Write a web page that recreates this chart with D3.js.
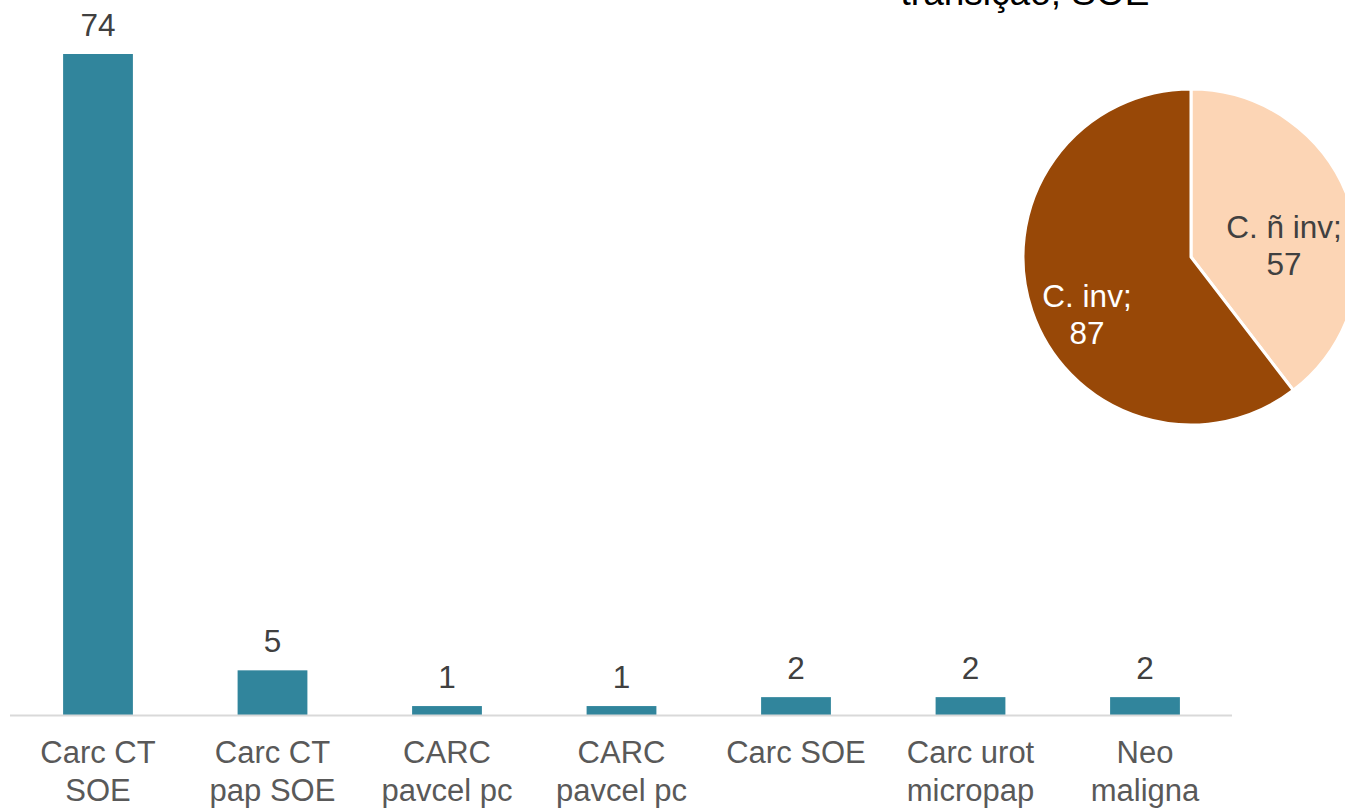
<!DOCTYPE html>
<html>
<head>
<meta charset="utf-8">
<script src="https://cdn.jsdelivr.net/npm/d3@7"></script>
<style>
  body { margin: 0; background: #fff; }
  svg { font-family: "Liberation Sans", Arial, sans-serif; display: block; }
</style>
</head>
<body>
<div id="chart"></div>
<script>
// bar data
var categories = [["Carc CT", "SOE"], ["Carc CT", "pap SOE"], ["CARC", "pavcel pc"], ["CARC", "pavcel pc"],
                  ["Carc SOE"], ["Carc urot", "micropap"], ["Neo", "maligna"]];
var values = [74, 5, 1, 1, 2, 2, 2];

// pie data
var pieLabels = ["C. ñ inv;", "C. inv;"];
var pieValues = [57, 87];
var pieTitle = "transição; SOE";

var width = 1345, height = 808;

var svg = d3.select("#chart").append("svg")
    .attr("width", width)
    .attr("height", height);

// bar chart
var x = d3.scaleBand()
    .domain(d3.range(values.length))
    .range([10.75, 1232.25])
    .paddingInner(0.6)
    .paddingOuter(0.3);

var y = d3.scaleLinear()
    .domain([0, 74])
    .range([715, 54]);

svg.append("g").selectAll("rect")
    .data(values)
  .enter().append("rect")
    .attr("x", function(d, i) { return x(i); })
    .attr("y", function(d) { return y(d); })
    .attr("width", x.bandwidth())
    .attr("height", function(d) { return y(0) - y(d); })
    .attr("fill", "#31859C");

svg.append("line")
    .attr("x1", 10).attr("x2", 1232)
    .attr("y1", y(0) + 0.5).attr("y2", y(0) + 0.5)
    .attr("stroke", "#D9D9D9")
    .attr("stroke-width", 2);

svg.append("g").selectAll("text")
    .data(values)
  .enter().append("text")
    .attr("x", function(d, i) { return x(i) + x.bandwidth() / 2; })
    .attr("y", function(d) { return y(d) - 18; })
    .attr("text-anchor", "middle")
    .attr("font-size", 31.5)
    .attr("fill", "#404040")
    .text(function(d) { return d; });

var cat = svg.append("g").selectAll("text")
    .data(categories)
  .enter().append("text")
    .attr("x", function(d, i) { return x(i) + x.bandwidth() / 2; })
    .attr("y", 763)
    .attr("text-anchor", "middle")
    .attr("font-size", 31)
    .attr("fill", "#595959");

cat.selectAll("tspan")
    .data(function(d) { return d; })
  .enter().append("tspan")
    .attr("x", function() { return d3.select(this.parentNode).attr("x"); })
    .attr("dy", function(d, i) { return i ? 38 : 0; })
    .text(function(d) { return d; });

// pie chart
var cx = 1191, cy = 257, r = 168;

svg.append("text")
    .attr("x", 1025)
    .attr("y", 5)
    .attr("text-anchor", "middle")
    .attr("font-size", 37)
    .attr("fill", "#000")
    .text(pieTitle);

var pie = d3.pie().sort(null)(pieValues);
var arc = d3.arc().innerRadius(0).outerRadius(r);
var pieColors = ["#FCD5B5", "#984807"];

var pg = svg.append("g").attr("transform", "translate(" + cx + "," + cy + ")");

pg.selectAll("path")
    .data(pie)
  .enter().append("path")
    .attr("d", arc)
    .attr("fill", function(d, i) { return pieColors[i]; })
    .attr("stroke", "#fff")
    .attr("stroke-width", 3)
    .attr("stroke-linejoin", "round");

var labelPos = [[93, -19], [-104, 50]];
var labelColors = ["#404040", "#fff"];

var pl = pg.selectAll("text.pl")
    .data(pie)
  .enter().append("text")
    .attr("class", "pl")
    .attr("text-anchor", "middle")
    .attr("font-size", 31.5)
    .attr("fill", function(d, i) { return labelColors[i]; });

pl.append("tspan")
    .attr("x", function(d, i) { return labelPos[i][0]; })
    .attr("y", function(d, i) { return labelPos[i][1]; })
    .text(function(d, i) { return pieLabels[i]; });
pl.append("tspan")
    .attr("x", function(d, i) { return labelPos[i][0]; })
    .attr("y", function(d, i) { return labelPos[i][1] + 37; })
    .text(function(d) { return d.value; });
</script>
</body>
</html>
